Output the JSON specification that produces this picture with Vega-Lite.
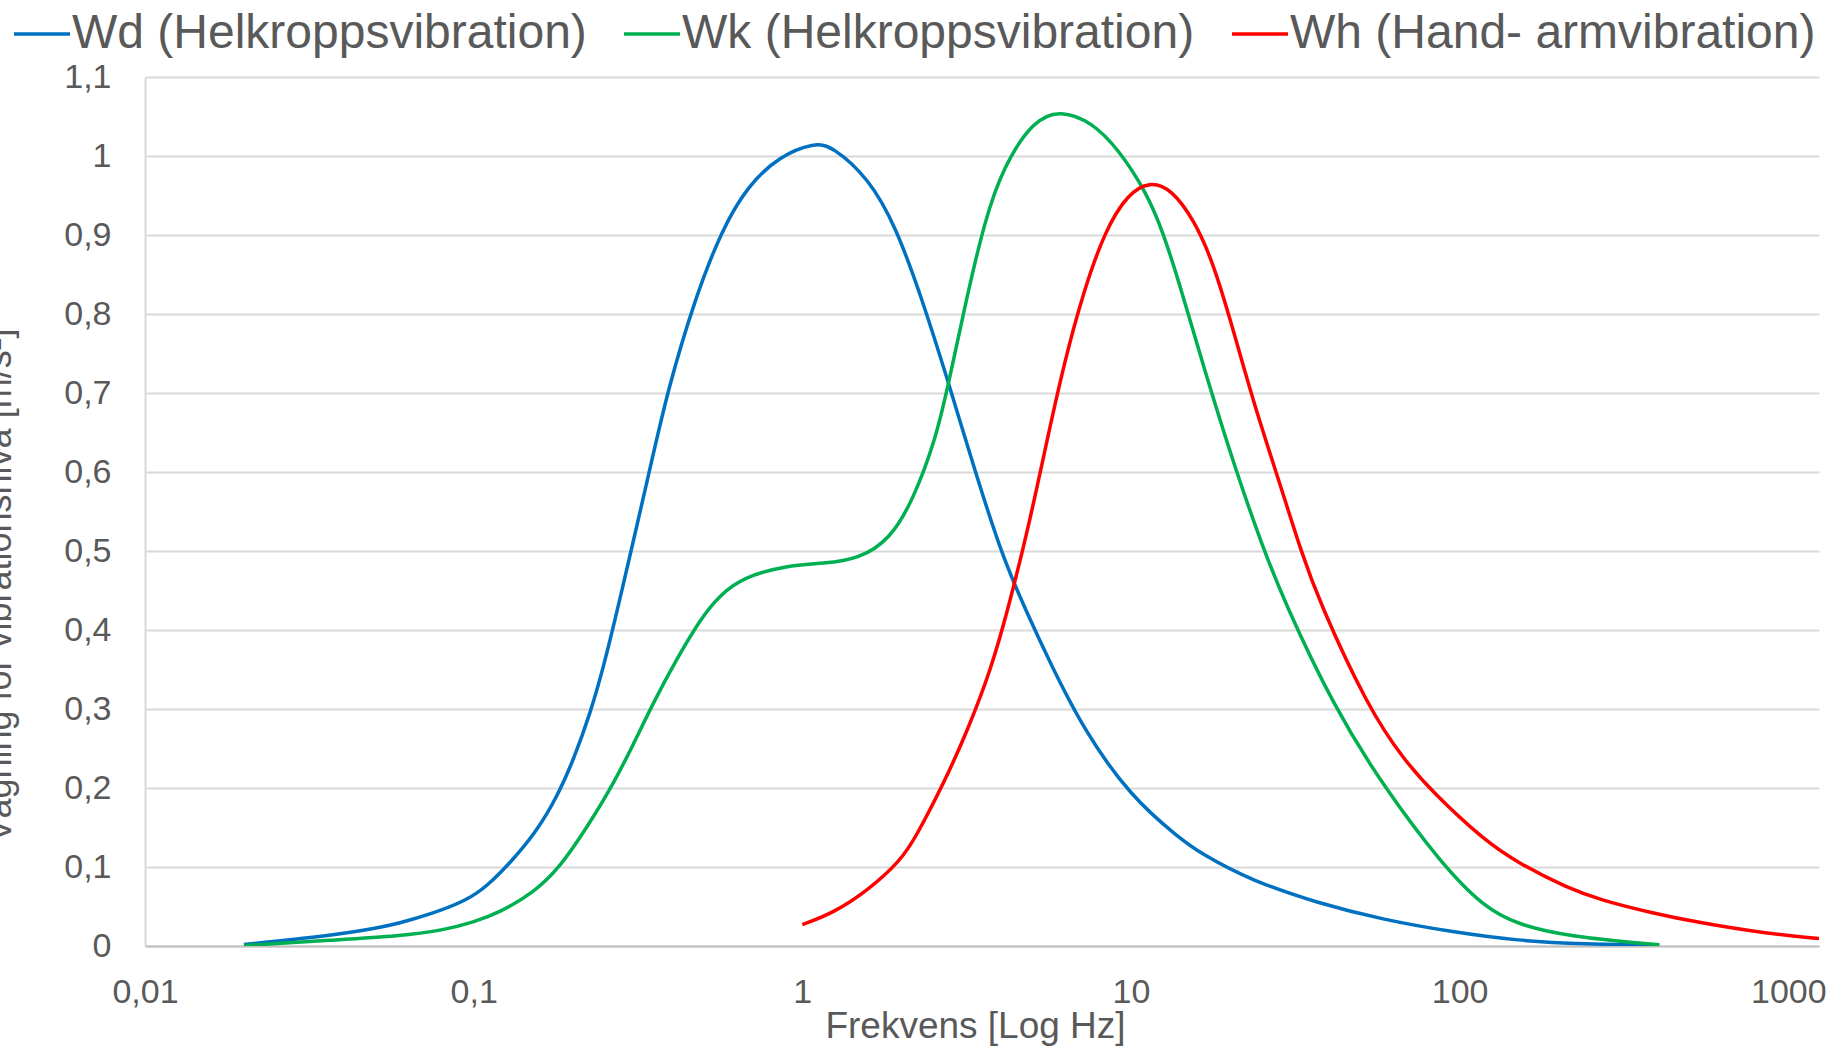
{
  "$schema": "https://vega.github.io/schema/vega-lite/v6.json",
  "autosize": "none",
  "width": 1674,
  "height": 869,
  "padding": {"left": 145, "top": 77, "right": 10, "bottom": 100},
  "background": "white",
  "config": {
    "view": {"stroke": null},
    "font": "Liberation Sans"
  },
  "datasets": {
    "wd": [
      {"f": 0.02, "v": 0.002}, {"f": 0.03, "v": 0.009}, {"f": 0.0474, "v": 0.02}, {"f": 0.0597, "v": 0.029},
      {"f": 0.075, "v": 0.041}, {"f": 0.0956, "v": 0.058}, {"f": 0.11, "v": 0.076}, {"f": 0.129, "v": 0.105},
      {"f": 0.155, "v": 0.144}, {"f": 0.18, "v": 0.19}, {"f": 0.201, "v": 0.235}, {"f": 0.2265, "v": 0.295},
      {"f": 0.248, "v": 0.352}, {"f": 0.2756, "v": 0.43}, {"f": 0.343, "v": 0.602}, {"f": 0.389, "v": 0.703},
      {"f": 0.47, "v": 0.818}, {"f": 0.568, "v": 0.906}, {"f": 0.681, "v": 0.962}, {"f": 0.853, "v": 1.0},
      {"f": 1.09, "v": 1.017}, {"f": 1.236, "v": 1.012}, {"f": 1.59, "v": 0.972}, {"f": 1.92, "v": 0.912},
      {"f": 2.31, "v": 0.82}, {"f": 2.79, "v": 0.712}, {"f": 3.37, "v": 0.598}, {"f": 4.07, "v": 0.492},
      {"f": 4.82, "v": 0.422}, {"f": 5.65, "v": 0.36}, {"f": 7.21, "v": 0.272}, {"f": 10, "v": 0.189},
      {"f": 13.9, "v": 0.138}, {"f": 16.3, "v": 0.117}, {"f": 23.2, "v": 0.083}, {"f": 37.1, "v": 0.054},
      {"f": 58.9, "v": 0.033}, {"f": 94.2, "v": 0.018}, {"f": 150.6, "v": 0.0065}, {"f": 239, "v": 0.0025},
      {"f": 405, "v": 0.0005}
    ],
    "wk": [
      {"f": 0.02, "v": 0.0005}, {"f": 0.0374, "v": 0.0076}, {"f": 0.0597, "v": 0.0126}, {"f": 0.0808, "v": 0.02},
      {"f": 0.1, "v": 0.03}, {"f": 0.1205, "v": 0.043}, {"f": 0.1518, "v": 0.067}, {"f": 0.1835, "v": 0.1},
      {"f": 0.2219, "v": 0.151}, {"f": 0.266, "v": 0.205}, {"f": 0.306, "v": 0.255}, {"f": 0.352, "v": 0.308},
      {"f": 0.417, "v": 0.365}, {"f": 0.49, "v": 0.414}, {"f": 0.56, "v": 0.444}, {"f": 0.662, "v": 0.467},
      {"f": 0.902, "v": 0.482}, {"f": 1.159, "v": 0.484}, {"f": 1.49, "v": 0.49}, {"f": 1.85, "v": 0.515},
      {"f": 2.17, "v": 0.564}, {"f": 2.54, "v": 0.64}, {"f": 2.79, "v": 0.713}, {"f": 3.16, "v": 0.82},
      {"f": 3.59, "v": 0.918}, {"f": 4.07, "v": 0.985}, {"f": 5.06, "v": 1.046}, {"f": 6.11, "v": 1.058},
      {"f": 7.6, "v": 1.043}, {"f": 9.18, "v": 1.008}, {"f": 11.1, "v": 0.955}, {"f": 12.5, "v": 0.905},
      {"f": 14.2, "v": 0.832}, {"f": 17.1, "v": 0.716}, {"f": 20.7, "v": 0.606}, {"f": 25.0, "v": 0.508},
      {"f": 29.2, "v": 0.437}, {"f": 41.5, "v": 0.302}, {"f": 58.9, "v": 0.201}, {"f": 87.7, "v": 0.105},
      {"f": 118.6, "v": 0.049}, {"f": 150.6, "v": 0.027}, {"f": 214, "v": 0.012}, {"f": 405, "v": 0.0015}
    ],
    "wh": [
      {"f": 1.0, "v": 0.027}, {"f": 1.245, "v": 0.042}, {"f": 1.58, "v": 0.07}, {"f": 1.99, "v": 0.108},
      {"f": 2.21, "v": 0.137}, {"f": 2.71, "v": 0.208}, {"f": 3.19, "v": 0.274}, {"f": 3.75, "v": 0.35},
      {"f": 4.25, "v": 0.43}, {"f": 4.92, "v": 0.537}, {"f": 5.55, "v": 0.64}, {"f": 6.28, "v": 0.74},
      {"f": 7.13, "v": 0.825}, {"f": 8.32, "v": 0.905}, {"f": 9.77, "v": 0.952}, {"f": 11.4, "v": 0.968},
      {"f": 13.3, "v": 0.958}, {"f": 15.6, "v": 0.918}, {"f": 17.7, "v": 0.867}, {"f": 20.0, "v": 0.795},
      {"f": 23.5, "v": 0.69}, {"f": 28.4, "v": 0.585}, {"f": 32.9, "v": 0.5}, {"f": 37.3, "v": 0.437},
      {"f": 52.6, "v": 0.302}, {"f": 67.8, "v": 0.235}, {"f": 83.6, "v": 0.193}, {"f": 118.6, "v": 0.134},
      {"f": 150.6, "v": 0.105}, {"f": 213.8, "v": 0.073}, {"f": 270, "v": 0.058}, {"f": 383, "v": 0.042},
      {"f": 543, "v": 0.029}, {"f": 850, "v": 0.016}, {"f": 1240, "v": 0.0095}
    ]
  },
  "layer": [
    {
      "data": {"name": "wd"},
      "transform": [{"calculate": "'Wd (Helkroppsvibration)'", "as": "s"}],
      "mark": {"type": "line", "interpolate": "basis", "strokeWidth": 3.5, "clip": true},
      "encoding": {
        "x": {"field": "f", "type": "quantitative"},
        "y": {"field": "v", "type": "quantitative"},
        "color": {"field": "s", "type": "nominal"}
      }
    },
    {
      "data": {"name": "wk"},
      "transform": [{"calculate": "'Wk (Helkroppsvibration)'", "as": "s"}],
      "mark": {"type": "line", "interpolate": "basis", "strokeWidth": 3.5, "clip": true},
      "encoding": {
        "x": {"field": "f", "type": "quantitative"},
        "y": {"field": "v", "type": "quantitative"},
        "color": {"field": "s", "type": "nominal"}
      }
    },
    {
      "data": {"name": "wh"},
      "transform": [{"calculate": "'Wh (Hand- armvibration)'", "as": "s"}],
      "mark": {"type": "line", "interpolate": "basis", "strokeWidth": 3.5, "clip": true},
      "encoding": {
        "x": {
          "field": "f", "type": "quantitative",
          "scale": {"type": "log", "domain": [0.01, 1240], "nice": false},
          "axis": {
            "values": [0.01, 0.1, 1, 10, 100, 1000],
            "labelExpr": "replace(toString(datum.value), '.', ',')",
            "grid": false, "ticks": false,
            "domainColor": "#bfbfbf", "domainWidth": 2,
            "labelFont": "Liberation Sans", "labelFontSize": 34, "labelColor": "#595959",
            "labelPadding": 29, "labelFlush": false, "labelOverlap": false,
            "title": "Frekvens [Log Hz]",
            "titleFont": "Liberation Sans", "titleFontSize": 37, "titleFontWeight": "normal", "titleColor": "#595959",
            "titleX": 830, "titleY": 91, "titleBaseline": "alphabetic", "titleAlign": "center"
          }
        },
        "y": {
          "field": "v", "type": "quantitative",
          "scale": {"domain": [0, 1.1], "nice": false, "zero": true},
          "axis": {
            "values": [0, 0.1, 0.2, 0.3, 0.4, 0.5, 0.6, 0.7, 0.8, 0.9, 1, 1.1],
            "labelExpr": "replace(toString(round(datum.value*10)/10), '.', ',')",
            "grid": true, "gridColor": "#d9d9d9", "gridWidth": 2,
            "ticks": false,
            "domainColor": "#d9d9d9", "domainWidth": 2,
            "labelFont": "Liberation Sans", "labelFontSize": 34, "labelColor": "#595959",
            "labelPadding": 34, "labelOverlap": false, "labelFlush": false,
            "title": "Vägning för vibrationsnivå [m/s²]",
            "titleFont": "Liberation Sans", "titleFontSize": 36, "titleFontWeight": "normal", "titleColor": "#595959",
            "titleAngle": 270, "titleX": -135, "titleY": 508, "titleBaseline": "alphabetic", "titleAlign": "center"
          }
        },
        "color": {
          "field": "s", "type": "nominal",
          "scale": {
            "domain": ["Wd (Helkroppsvibration)", "Wk (Helkroppsvibration)", "Wh (Hand- armvibration)"],
            "range": ["#0070C0", "#00B050", "#FF0000"]
          },
          "legend": {
            "orient": "none", "direction": "horizontal",
            "legendX": -133, "legendY": -73,
            "title": null,
            "symbolType": "stroke", "symbolSize": 3136, "symbolStrokeWidth": 3.5,
            "labelFont": "Liberation Sans", "labelFontSize": 48, "labelColor": "#595959",
            "labelOffset": 0, "columnPadding": 30, "padding": 0, "labelLimit": 800
          }
        }
      }
    }
  ]
}
